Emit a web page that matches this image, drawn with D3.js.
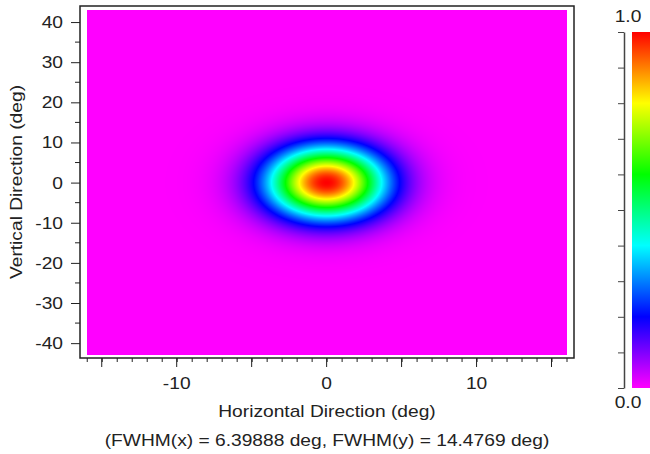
<!DOCTYPE html>
<html>
<head>
<meta charset="utf-8">
<script src="https://cdn.jsdelivr.net/npm/d3@7"></script>
<style>
  body { margin: 0; background: #fff; }
  svg text { font-family: "Liberation Sans", Arial, sans-serif; fill: #222; font-size: 16px; }
</style>
</head>
<body>
<div id="chart"></div>
<script>
var width = 650, height = 454;

// beam shape, as printed under the chart
var fwhmX = 6.39888, fwhmY = 14.4769;
var beamCenter = [0, 0];
// extent of the sampled image (deg)
var imageX = [-16, 16], imageY = [-43, 43];

var xTicks = [-10, 0, 10];
var xMajor = [-15, -10, -5, 0, 5, 10, 15];
var yTicks = [-40, -30, -20, -10, 0, 10, 20, 30, 40];
var yMinor = [-35, -25, -15, -5, 5, 15, 25, 35];

var colorStops = [0, 0.2, 0.4, 0.6, 0.8, 1.0];
var colorValues = ["#ff00ff", "#0000ff", "#00ffff", "#00ff00", "#ffff00", "#ff0000"];
var barTicks = [0, 0.1, 0.2, 0.3, 0.4, 0.5, 0.6, 0.7, 0.8, 0.9, 1.0];
var barLabels = [0, 1];

var plot = {left: 80, right: 574, top: 6, bottom: 358};
var bar = {left: 632, right: 652, top: 32, bottom: 388, axis: 624};
var STRETCH = 1.2; // the original font is drawn wider than it is tall

var x = d3.scaleLinear().domain([-16.45, 16.5]).range([plot.left, plot.right]);
var y = d3.scaleLinear().domain([-43.7, 44]).range([plot.bottom, plot.top]);
var color = d3.scaleLinear().domain(colorStops).range(colorValues).clamp(true);
var barY = d3.scaleLinear().domain([0, 1]).range([bar.bottom, bar.top]);

var svg = d3.select("#chart").append("svg")
    .attr("width", width)
    .attr("height", height);

var label = function(parent, tx, ty, anchor, txt, rot) {
  return parent.append("text")
    .attr("transform", "translate(" + tx + "," + ty + ")" + (rot ? " rotate(" + rot + ")" : "") + " scale(" + STRETCH + ",1)")
    .attr("text-anchor", anchor)
    .text(txt);
}

// heat map drawn on a canvas, then placed as an image
var px0 = Math.round(x(imageX[0])), px1 = Math.round(x(imageX[1]));
var py0 = Math.round(y(imageY[1])), py1 = Math.round(y(imageY[0]));
var cw = px1 - px0, ch = py1 - py0;
var canvas = document.createElement("canvas");
canvas.width = cw; canvas.height = ch;
var ctx = canvas.getContext("2d");
var img = ctx.createImageData(cw, ch);
var sx = fwhmX / (2 * Math.sqrt(2 * Math.LN2));
var sy = fwhmY / (2 * Math.sqrt(2 * Math.LN2));
for (var j = 0; j < ch; j++) {
  var vy = y.invert(py0 + j + 0.5) - beamCenter[1];
  for (var i = 0; i < cw; i++) {
    var vx = x.invert(px0 + i + 0.5) - beamCenter[0];
    var v = Math.exp(-(vx * vx) / (2 * sx * sx) - (vy * vy) / (2 * sy * sy));
    var c = d3.rgb(color(v));
    var k = (j * cw + i) * 4;
    img.data[k] = c.r; img.data[k + 1] = c.g; img.data[k + 2] = c.b; img.data[k + 3] = 255;
  }
}
ctx.putImageData(img, 0, 0);

svg.append("image")
    .attr("x", px0)
    .attr("y", py0)
    .attr("width", cw)
    .attr("height", ch)
    .attr("preserveAspectRatio", "none")
    .attr("href", canvas.toDataURL());

// frame
svg.append("rect")
    .attr("x", plot.left)
    .attr("y", plot.top)
    .attr("width", plot.right - plot.left)
    .attr("height", plot.bottom - plot.top)
    .attr("fill", "none")
    .attr("stroke", "#222")
    .attr("stroke-width", 1.5);

// x axis: minor every degree, major every 5
var xg = svg.append("g").attr("transform", "translate(0," + plot.bottom + ")");
xg.call(d3.axisBottom(x).tickValues(d3.range(-16, 17, 1)).tickSize(4).tickFormat(""));
xg.selectAll(".major").data(xMajor).enter().append("line")
    .attr("class", "major")
    .attr("x1", function(d) { return x(d); })
    .attr("x2", function(d) { return x(d); })
    .attr("y1", 0).attr("y2", 9)
    .attr("stroke", "#222");
xg.select(".domain").remove();
xg.selectAll(".tick line").attr("stroke", "#222");
xTicks.forEach(function(d) { label(xg, x(d), 31, "middle", String(d)); });

// y axis: labelled every 10, minor every 5
var yg = svg.append("g").attr("transform", "translate(" + plot.left + ",0)");
yg.call(d3.axisLeft(y).tickValues(yTicks).tickSize(9).tickFormat(""));
yg.selectAll(".minor").data(yMinor).enter().append("line")
    .attr("class", "minor")
    .attr("x1", -5).attr("x2", 0)
    .attr("y1", function(d) { return y(d); })
    .attr("y2", function(d) { return y(d); })
    .attr("stroke", "#222");
yg.select(".domain").remove();
yg.selectAll(".tick line").attr("stroke", "#222");
yTicks.forEach(function(d) { label(yg, -17, y(d) + 6, "end", String(d)); });

// titles
label(svg, (plot.left + plot.right) / 2, 417, "middle", "Horizontal Direction (deg)");
label(svg, (plot.left + plot.right) / 2, 446, "middle",
  "(FWHM(x) = " + fwhmX + " deg, FWHM(y) = " + fwhmY + " deg)");
svg.append("text")
    .attr("transform", "translate(22," + ((plot.top + plot.bottom) / 2) + ") rotate(-90) scale(" + STRETCH + ",1)")
    .attr("text-anchor", "middle")
    .text("Vertical Direction (deg)");

// colour bar
var grad = svg.append("defs").append("linearGradient")
    .attr("id", "bargrad")
    .attr("x1", 0).attr("y1", 1).attr("x2", 0).attr("y2", 0);
grad.selectAll("stop").data(colorStops).enter().append("stop")
    .attr("offset", function(d) { return d; })
    .attr("stop-color", function(d, i) { return colorValues[i]; });

svg.append("rect")
    .attr("x", bar.left)
    .attr("y", bar.top)
    .attr("width", bar.right - bar.left)
    .attr("height", bar.bottom - bar.top)
    .attr("fill", "url(#bargrad)");

var bg = svg.append("g").attr("transform", "translate(" + bar.axis + ",0)");
bg.call(d3.axisLeft(barY).tickValues(barTicks).tickSize(6).tickSizeOuter(0).tickFormat(""));
bg.selectAll("line").attr("stroke", "#444");
bg.select(".domain").attr("stroke", "#444").attr("stroke-width", 1.5);

barLabels.forEach(function(d) {
  label(svg, 628, d === 1 ? bar.top - 10 : bar.bottom + 20, "middle", d3.format(".1f")(d));
});
</script>
</body>
</html>
